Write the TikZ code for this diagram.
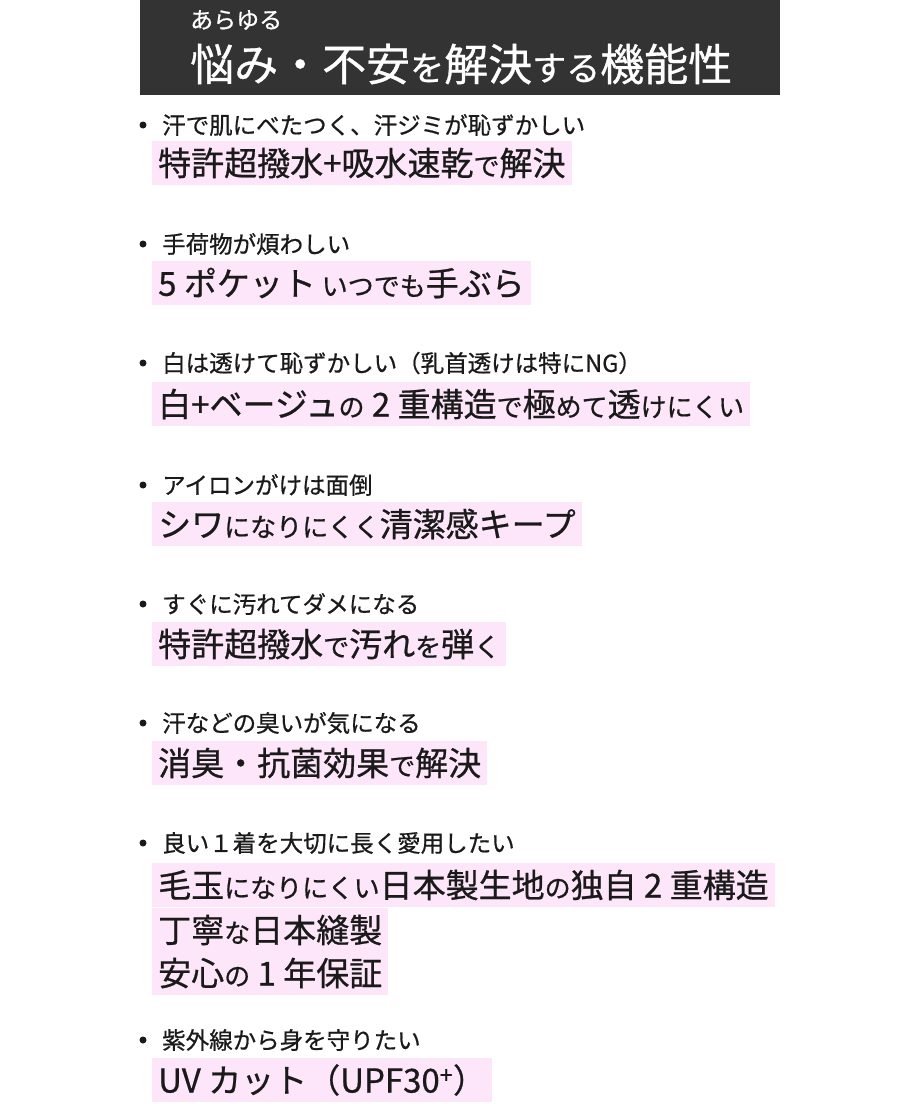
\documentclass[tikz,border=0pt]{standalone}
\usepackage{fontspec}
\setmainfont{Noto Sans CJK JP}[FakeBold=0.7,BoldFont=*]
\definecolor{hdr}{HTML}{333333}
\definecolor{hl}{HTML}{FDE6FA}
\definecolor{ink}{HTML}{1A1A1A}
\newcommand{\Bg}[1]{{\fontsize{33}{36}\selectfont #1}}
\newcommand{\Tg}[1]{{\fontsize{44}{48}\selectfont #1}}
\tikzset{
 q/.style={anchor=west,inner sep=0pt,text=ink,font=\bfseries\fontsize{23.5}{26}\selectfont},
 ans/.style={anchor=west,fill=hl,inner xsep=6pt,inner ysep=0pt,minimum height=44pt,text=ink,font=\bfseries\fontsize{26}{28}\selectfont},
 dot/.style={circle,fill=ink,inner sep=0pt,minimum size=7pt}
}
\begin{document}
\begin{tikzpicture}[x=1pt,y=-1pt]
\useasboundingbox (0,0) rectangle (920,1104);
\fill[hdr] (140,0) rectangle (780,95);
\node[anchor=west,inner sep=0pt,text=white,font=\bfseries\fontsize{23}{26}\selectfont] (t1) at (190,20) {あらゆる};
\node[anchor=west,inner sep=0pt,text=white,font=\bfseries\fontsize{34}{38}\selectfont] (t2) at (190,64) {\Tg{悩み・不安}を\Tg{解決}する\Tg{機能性}};
% items
\foreach \y/\n in {125/1,244/2,363/3,485/4,604/5,723/6,843/7,1040/8}{\node[dot] (d\n) at (143,\y) {};}
\node[q] (q1) at (162,125) {汗で肌にべたつく、汗ジミが恥ずかしい};
\node[ans] (a1) at (152,163) {\Bg{特許超撥水+吸水速乾}で\Bg{解決}};
\node[q] (q2) at (162,244) {手荷物が煩わしい};
\node[ans] (a2) at (152,283) {\Bg{5 ポケット} いつでも\Bg{手ぶら}};
\node[q] (q3) at (162,363) {白は透けて恥ずかしい（乳首透けは特にNG）};
\node[ans] (a3) at (152,404) {\Bg{白+ベージュ}の\Bg{ 2 重構造}で\Bg{極}めて\Bg{透}けにくい};
\node[q] (q4) at (162,485) {アイロンがけは面倒};
\node[ans] (a4) at (152,524) {\Bg{シワ}になりにくく\Bg{清潔感キープ}};
\node[q] (q5) at (162,604) {すぐに汚れてダメになる};
\node[ans] (a5) at (152,644) {\Bg{特許超撥水}で\Bg{汚れ}を\Bg{弾}く};
\node[q] (q6) at (162,723) {汗などの臭いが気になる};
\node[ans] (a6) at (152,763) {\Bg{消臭・抗菌効果}で\Bg{解決}};
\node[q] (q7) at (162,843) {良い１着を大切に長く愛用したい};
\node[ans] (a7) at (152,885) {\Bg{毛玉}になりにくい\Bg{日本製生地}の\Bg{独自 2 重構造}};
\node[ans] (a7b) at (152,930) {\Bg{丁寧}な\Bg{日本縫製}};
\node[ans] (a7c) at (152,973) {\Bg{安心}の\Bg{ 1 年保証}};
\node[q] (q8) at (162,1040) {紫外線から身を守りたい};
\node[ans] (a8) at (152,1080) {\Bg{UV カット（UPF30\textsuperscript{+}）}};
\end{tikzpicture}
\end{document}
